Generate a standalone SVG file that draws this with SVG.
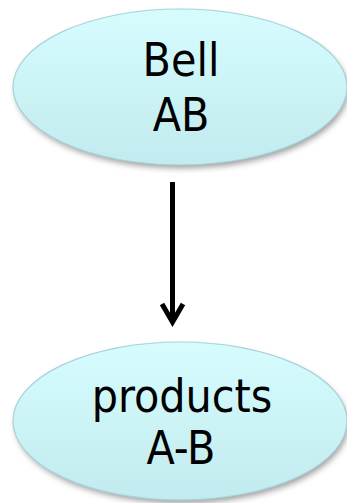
<svg xmlns="http://www.w3.org/2000/svg" width="347" height="503" viewBox="0 0 347 503">
  <defs>
    <linearGradient id="bubble" x1="0" y1="0" x2="0" y2="1">
      <stop offset="0" stop-color="#D6FCFE"/>
      <stop offset="1" stop-color="#C2EBEF"/>
    </linearGradient>
    <filter id="soft" x="-10%" y="-20%" width="120%" height="140%">
      <feGaussianBlur stdDeviation="3"/>
    </filter>
  </defs>
  <style>
    .shade { fill: #000; fill-opacity: 0.4; filter: url(#soft); }
    .bubble { stroke: #A8D2D8; stroke-width: 1.2; }
    .label { font-family: "DejaVu Sans Condensed", "DejaVu Sans", sans-serif; font-stretch: condensed; font-size: 46px; fill: #000; text-anchor: middle; }
    .edge { fill: none; stroke: #000; stroke-width: 5; stroke-linejoin: miter; }
  </style>

  <g id="node-bell">
    <ellipse class="shade" cx="182" cy="91" rx="166" ry="77"/>
    <ellipse class="bubble" fill="url(#bubble)" cx="180" cy="87" rx="167" ry="78"/>
    <text class="label" x="181" y="76">Bell</text>
    <text class="label" x="181" y="131">AB</text>
  </g>

  <g id="node-products">
    <ellipse class="shade" cx="182" cy="425" rx="166" ry="78"/>
    <ellipse class="bubble" fill="url(#bubble)" cx="180" cy="421" rx="167" ry="79"/>
    <text class="label" x="182" y="412">products</text>
    <text class="label" x="181" y="464">A-B</text>
  </g>

  <g id="connectors">
    <line class="edge" x1="172.5" y1="182" x2="172.5" y2="322"/>
    <polyline class="edge" points="162,304 172.5,322 183,304"/>
  </g>
</svg>
